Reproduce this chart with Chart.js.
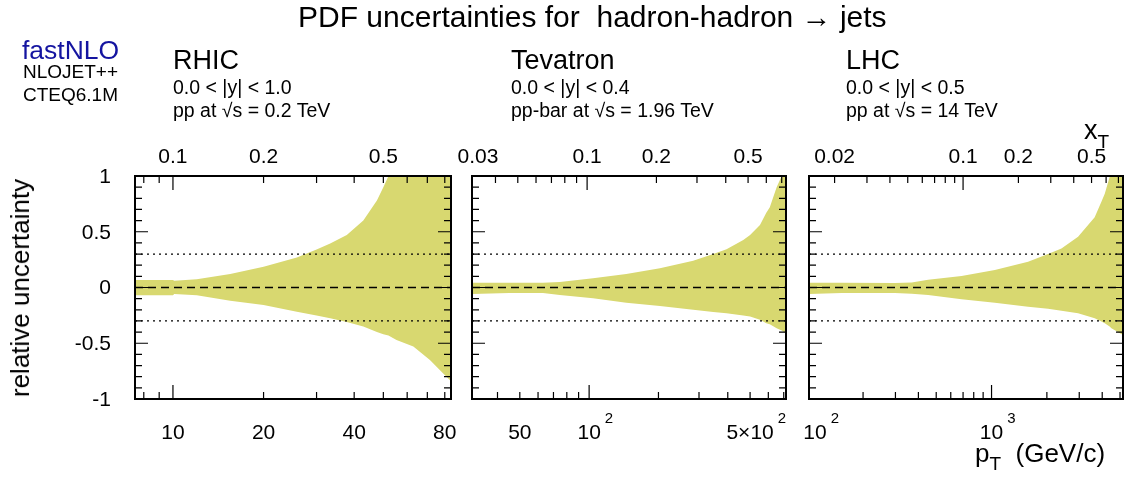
<!DOCTYPE html>
<html>
<head>
<meta charset="utf-8">
<script src="https://cdn.jsdelivr.net/npm/chart.js@4.4.0/dist/chart.umd.min.js"></script>
<style>
  body { margin: 0; background: #fff; }
  #wrap { position: relative; width: 1125px; height: 482px; overflow: hidden; font-family: "Liberation Sans", Arial, sans-serif; }
  canvas { position: absolute; left: 0; top: 0; }
  .t { position: absolute; white-space: nowrap; line-height: 1; color: #000; }
</style>
</head>
<body>
<div id="wrap">
  <canvas id="c0" width="1125" height="482"></canvas>
  <canvas id="c1" width="1125" height="482"></canvas>
  <canvas id="c2" width="1125" height="482"></canvas>

  <div class="t" style="left:298px; top:2px; font-size:30px;">PDF uncertainties for&nbsp; hadron-hadron &rarr; jets</div>

  <div class="t" style="left:22px; top:36.6px; font-size:26.5px; color:#1414a0;">fastNLO</div>
  <div class="t" style="left:23px; top:61.9px; font-size:19px;">NLOJET++</div>
  <div class="t" style="left:23px; top:84.9px; font-size:19px;">CTEQ6.1M</div>

  <div class="t" style="left:173px; top:47.1px; font-size:27px;">RHIC</div>
  <div class="t" style="left:173px; top:77.5px; font-size:19.5px;">0.0 &lt; |y| &lt; 1.0</div>
  <div class="t" style="left:173px; top:100.5px; font-size:19.5px;">pp at &radic;s = 0.2 TeV</div>

  <div class="t" style="left:511px; top:47.1px; font-size:27px;">Tevatron</div>
  <div class="t" style="left:511px; top:77.5px; font-size:19.5px;">0.0 &lt; |y| &lt; 0.4</div>
  <div class="t" style="left:511px; top:100.5px; font-size:19.5px;">pp-bar at &radic;s = 1.96 TeV</div>

  <div class="t" style="left:846px; top:47.1px; font-size:27px;">LHC</div>
  <div class="t" style="left:846px; top:77.5px; font-size:19.5px;">0.0 &lt; |y| &lt; 0.5</div>
  <div class="t" style="left:846px; top:100.5px; font-size:19.5px;">pp at &radic;s = 14 TeV</div>

  <div class="t" style="left:1084px; top:117px; font-size:27px;">x<span style="font-size:19px; position:relative; top:9px;">T</span></div>
  <div class="t" style="left:975px; top:440px; font-size:26px;">p<span style="font-size:19px; position:relative; top:8px;">T</span>&nbsp; (GeV/c)</div>

  <div class="t" style="left:20px; top:288px; font-size:26px; transform:translate(-50%,-50%) rotate(-90deg);">relative uncertainty</div>
</div>

<script>
// RHIC, pp at 0.2 TeV: relative PDF uncertainty band vs pT
const rhicPt  = [7.48, 10, 10.1, 12, 15.5, 20, 25.8, 30, 33.3, 37.8, 42.9, 47.6, 50, 52, 55.3, 62.9, 71.4, 78.9, 83.9];
const rhicUp  = [0.067, 0.067, 0.06, 0.075, 0.121, 0.186, 0.27, 0.34, 0.395, 0.47, 0.6, 0.78, 0.9, 1.0, 1.05, 1.05, 1.05, 1.05, 1.05];
const rhicLow = [-0.07, -0.07, -0.058, -0.07, -0.118, -0.157, -0.217, -0.25, -0.275, -0.31, -0.35, -0.4, -0.42, -0.43, -0.47, -0.53, -0.65, -0.77, -0.84];

// Tevatron, ppbar at 1.96 TeV
const tevPt  = [31, 45, 63, 74.6, 104, 145, 203, 283, 346, 395, 467, 500, 552, 588, 609, 652, 686, 716];
const tevUp  = [0.043, 0.043, 0.043, 0.05, 0.082, 0.121, 0.172, 0.24, 0.3, 0.342, 0.425, 0.47, 0.56, 0.67, 0.72, 0.9, 1.0, 1.05];
const tevLow = [-0.058, -0.05, -0.05, -0.067, -0.097, -0.136, -0.166, -0.2, -0.22, -0.231, -0.25, -0.26, -0.29, -0.32, -0.33, -0.365, -0.385, -0.41];

// LHC, pp at 14 TeV
const lhcPt  = [101.6, 153, 298, 368, 452, 687, 1042, 1580, 2030, 2400, 2956, 3640, 3960, 4130, 4390, 4490, 5190];
const lhcUp  = [0.043, 0.043, 0.04, 0.045, 0.07, 0.103, 0.157, 0.23, 0.3, 0.35, 0.455, 0.63, 0.77, 0.84, 0.99, 1.0, 1.05];
const lhcLow = [-0.058, -0.05, -0.05, -0.055, -0.067, -0.106, -0.136, -0.172, -0.19, -0.208, -0.231, -0.276, -0.306, -0.32, -0.35, -0.365, -0.425];

// axis ticks (pT on the bottom, xT on the top)
const rhicBotTicks = [8, 9, 10, 20, 30, 40, 50, 60, 70, 80];
const rhicBotLabels = [{v: 10, t: '10'}, {v: 20, t: '20'}, {v: 40, t: '40'}, {v: 80, t: '80'}];
const rhicTopTicks = [0.08, 0.09, 0.1, 0.2, 0.3, 0.4, 0.5, 0.6, 0.7, 0.8];
const rhicTopLabels = [{v: 0.1, t: '0.1'}, {v: 0.2, t: '0.2'}, {v: 0.5, t: '0.5'}];

const tevBotTicks = [40, 50, 60, 70, 80, 90, 100, 200, 300, 400, 500, 600, 700];
const tevBotLabels = [{v: 50, t: '50'}, {v: 100, t: '10', sup: '2'}, {v: 500, t: '5\u00d710', sup: '2'}];
const tevTopTicks = [0.04, 0.05, 0.06, 0.07, 0.08, 0.09, 0.1, 0.2, 0.3, 0.4, 0.5, 0.6, 0.7];
const tevTopLabels = [{v: 0.03, t: '0.03'}, {v: 0.1, t: '0.1'}, {v: 0.2, t: '0.2'}, {v: 0.5, t: '0.5'}];

const lhcBotTicks = [200, 300, 400, 500, 600, 700, 800, 900, 1000, 2000, 3000, 4000, 5000];
const lhcBotLabels = [{v: 100, t: '10', sup: '2'}, {v: 1000, t: '10', sup: '3'}];
const lhcTopTicks = [0.02, 0.03, 0.04, 0.05, 0.06, 0.07, 0.08, 0.09, 0.1, 0.2, 0.3, 0.4, 0.5, 0.6, 0.7];
const lhcTopLabels = [{v: 0.02, t: '0.02'}, {v: 0.1, t: '0.1'}, {v: 0.2, t: '0.2'}, {v: 0.5, t: '0.5'}];

const yLabels = [1, 0.5, 0, -0.5, -1];

const bandColor = 'rgb(216, 216, 112)';
const FONT = '"Liberation Sans", Arial, sans-serif';

const panels = [
    { id: 'c0', area: [135, 176, 451, 399], ptMin: 7.48, ptMax: 83.9, sqrtS: 200,
      pt: rhicPt, up: rhicUp, low: rhicLow,
      botTicks: rhicBotTicks, botLabels: rhicBotLabels, topTicks: rhicTopTicks, topLabels: rhicTopLabels, yAxis: true },
    { id: 'c1', area: [472, 176, 786, 399], ptMin: 31, ptMax: 716, sqrtS: 1960,
      pt: tevPt, up: tevUp, low: tevLow,
      botTicks: tevBotTicks, botLabels: tevBotLabels, topTicks: tevTopTicks, topLabels: tevTopLabels },
    { id: 'c2', area: [809, 176, 1123, 399], ptMin: 101.6, ptMax: 5190, sqrtS: 14000,
      pt: lhcPt, up: lhcUp, low: lhcLow,
      botTicks: lhcBotTicks, botLabels: lhcBotLabels, topTicks: lhcTopTicks, topLabels: lhcTopLabels }
];

function isDecade(v) {
    const l = Math.log10(v);
    return Math.abs(l - Math.round(l)) < 1e-6;
}

// frame, inside ticks and tick labels, ROOT style
const framePlugin = {
    id: 'frame',
    afterDraw(chart, args, opts) {
        const p = opts.panel;
        const ctx = chart.ctx;
        const a = chart.chartArea;
        const xs = chart.scales.x, xt = chart.scales.x2, ys = chart.scales.y;
        ctx.save();
        ctx.strokeStyle = '#000';
        ctx.fillStyle = '#000';

        // y ticks on both sides
        ctx.lineWidth = 1.2;
        for (let i = -10; i <= 10; i++) {
            const py = ys.getPixelForValue(i / 10);
            const len = (i % 5 === 0) ? 13 : 7;
            ctx.beginPath();
            ctx.moveTo(a.left, py); ctx.lineTo(a.left + len, py);
            ctx.moveTo(a.right, py); ctx.lineTo(a.right - len, py);
            ctx.stroke();
        }
        // bottom ticks (pT)
        p.botTicks.forEach(v => {
            const px = xs.getPixelForValue(v);
            const len = isDecade(v) ? 14 : 7;
            ctx.beginPath(); ctx.moveTo(px, a.bottom); ctx.lineTo(px, a.bottom - len); ctx.stroke();
        });
        // top ticks (xT)
        p.topTicks.forEach(v => {
            const px = xt.getPixelForValue(v);
            const len = isDecade(v) ? 14 : 7;
            ctx.beginPath(); ctx.moveTo(px, a.top); ctx.lineTo(px, a.top + len); ctx.stroke();
        });

        // frame
        ctx.lineWidth = 2;
        ctx.strokeRect(a.left, a.top, a.right - a.left, a.bottom - a.top);

        // labels
        const drawLabel = (lab, px, baseY) => {
            ctx.font = '21px ' + FONT;
            ctx.textAlign = 'center';
            ctx.textBaseline = 'alphabetic';
            ctx.fillText(lab.t, px, baseY);
            if (lab.sup) {
                const w = ctx.measureText(lab.t).width;
                ctx.font = '15px ' + FONT;
                ctx.textAlign = 'left';
                ctx.fillText(lab.sup, px + w / 2 + 4, baseY - 16);
            }
        };
        p.botLabels.forEach(lab => {
            let px = xs.getPixelForValue(lab.v);
            px = Math.max(px, a.left + 6);
            drawLabel(lab, px, 439);
        });
        p.topLabels.forEach(lab => {
            let px = xt.getPixelForValue(lab.v);
            px = Math.max(px, a.left + 6);
            drawLabel(lab, px, 163);
        });
        if (p.yAxis) {
            ctx.font = '21px ' + FONT;
            ctx.textAlign = 'right';
            ctx.textBaseline = 'middle';
            yLabels.forEach(v => ctx.fillText(String(v), 111, ys.getPixelForValue(v) + 1));
        }
        ctx.restore();
    }
};

panels.forEach(p => {
    const ctx = document.getElementById(p.id).getContext('2d');
    const band = (arr) => p.pt.map((x, i) => ({ x: x, y: arr[i] }));
    const flat = (v) => [{ x: p.ptMin, y: v }, { x: p.ptMax, y: v }];
    new Chart(ctx, {
        type: 'line',
        data: {
            datasets: [
                { data: flat(0), borderColor: '#000', borderWidth: 1.3, borderDash: [8, 5], pointRadius: 0, fill: false, order: 0 },
                { data: flat(0.3), borderColor: '#000', borderWidth: 1.3, borderDash: [2, 4], pointRadius: 0, fill: false, order: 0 },
                { data: flat(-0.3), borderColor: '#000', borderWidth: 1.3, borderDash: [2, 4], pointRadius: 0, fill: false, order: 0 },
                { data: band(p.up), borderWidth: 0, borderColor: bandColor, backgroundColor: bandColor, pointRadius: 0, fill: '+1', order: 1 },
                { data: band(p.low), borderWidth: 0, borderColor: bandColor, backgroundColor: bandColor, pointRadius: 0, fill: false, order: 1 }
            ]
        },
        options: {
            responsive: false,
            animation: false,
            devicePixelRatio: 1,
            layout: { padding: { left: p.area[0], top: p.area[1], right: 1125 - p.area[2], bottom: 482 - p.area[3] } },
            plugins: { legend: { display: false }, tooltip: { enabled: false }, frame: { panel: p } },
            scales: {
                x: { type: 'logarithmic', min: p.ptMin, max: p.ptMax, display: false },
                x2: { type: 'logarithmic', min: 2 * p.ptMin / p.sqrtS, max: 2 * p.ptMax / p.sqrtS, display: false },
                y: { type: 'linear', min: -1, max: 1, display: false }
            }
        },
        plugins: [framePlugin]
    });
});
</script>
</body>
</html>
